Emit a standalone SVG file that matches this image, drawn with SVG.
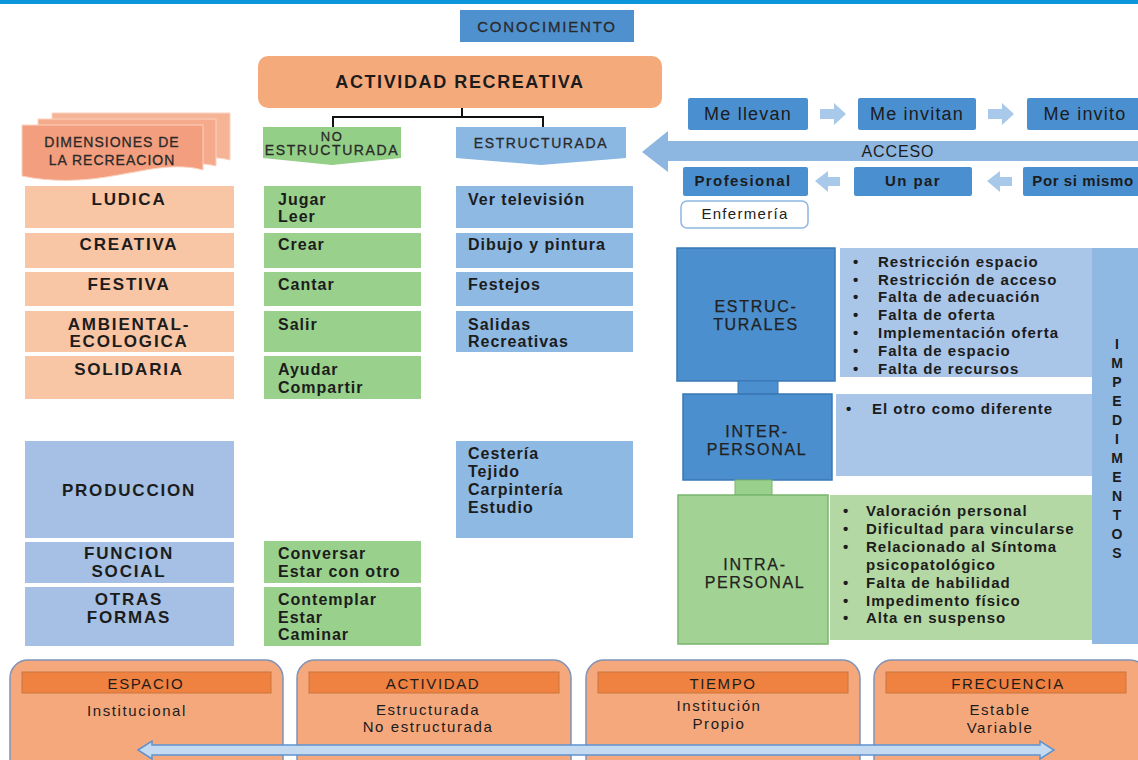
<svg xmlns="http://www.w3.org/2000/svg" width="1138" height="760" viewBox="0 0 1138 760">
  <defs>
    <style>
      text { font-family: "Liberation Sans", Arial, sans-serif; fill: #1c1c1c; }
      .b { font-weight: bold; }
      .dim { font-size: 17px; font-weight: bold; letter-spacing: 1.8px; text-anchor: middle; }
      .act { font-size: 16px; font-weight: bold; letter-spacing: 1px; }
      .bul { font-size: 15px; font-weight: bold; letter-spacing: 1px; }
      .hdr { font-size: 14px; letter-spacing: 1.6px; text-anchor: middle; fill: #2a2a2a; stroke: #2a2a2a; stroke-width: 0.3px; }
      .acc { font-size: 18px; letter-spacing: 1.2px; text-anchor: middle; }
      .acb { font-size: 15px; font-weight: bold; letter-spacing: 1.4px; text-anchor: middle; }
      .imp { font-size: 16px; letter-spacing: 1.7px; text-anchor: middle; fill: #222; stroke: #222; stroke-width: 0.25px; }
      .card { font-size: 15px; letter-spacing: 1.6px; text-anchor: middle; }
      .peach { fill: #f8c5a5; }
      .green { fill: #98d08c; }
      .blue { fill: #8eb9e3; }
      .lblue { fill: #a5c0e4; }
      .dblue { fill: #4a8fd0; }
      .barr { fill: #a9c9ea; }
      .doc { stroke: #fbd3c0; stroke-width: 1; }
      .cardbox { fill: #f4a87c; stroke: #7f93b8; stroke-width: 1.5; }
      .cardhdr { fill: #ef8141; stroke: #c9763f; stroke-width: 1; }
    </style>
  </defs>

  <!-- top band -->
  <rect x="0" y="0" width="1138" height="4" fill="#0a96d8"/>

  <g id="conocimiento">
    <rect x="460" y="10" width="174" height="32" fill="#4f91cf"/>
    <text x="547" y="32" class="hdr" style="font-size:15px;letter-spacing:1.8px">CONOCIMIENTO</text>
  </g>

  <g id="actividad-recreativa">
    <rect x="258" y="56" width="404" height="52" rx="10" fill="#f5aa7c"/>
    <text x="460" y="88" class="b" style="font-size:18px;letter-spacing:1.6px;text-anchor:middle">ACTIVIDAD RECREATIVA</text>
  </g>

  <!-- connectors -->
  <g id="connectors" fill="none" stroke="#111" stroke-width="2">
    <path d="M462,108 V117 M333,127 V117 H543 V127"/>
  </g>

  <g id="no-estructurada">
    <path d="M263,127 H401 V158 L332,165 L263,158 Z" fill="#93cf86"/>
    <text x="332" y="141" class="hdr" style="font-size:13px">NO</text>
    <text x="332" y="155" class="hdr">ESTRUCTURADA</text>
  </g>

  <g id="estructurada">
    <path d="M456,127 H626 V158 L541,165 L456,158 Z" fill="#8ab8e2"/>
    <text x="541" y="148" class="hdr">ESTRUCTURADA</text>
  </g>

  <!-- stacked document shape -->
  <g id="dimensiones">
    <path class="doc" d="M52,113 H230 V160 C205,154 180,160 150,166 C115,172 80,172 52,166 Z" fill="#f6b496"/>
    <path class="doc" d="M38,119 H216 V166 C190,160 165,166 135,172 C100,178 66,178 38,172 Z" fill="#f5aa8b"/>
    <path class="doc" d="M22,125 H203 V170 C178,163 150,169 118,175 C82,182 50,182 22,176 Z" fill="#f39e7e"/>
    <text x="112" y="147" class="hdr" style="letter-spacing:1px">DIMENSIONES DE</text>
    <text x="112" y="165" class="hdr" style="letter-spacing:1px">LA RECREACION</text>
  </g>

  <!-- dimensions column -->
  <g id="dim-ludica"><rect x="25" y="186" width="209" height="42" class="peach"/><text x="129" y="205" class="dim">LUDICA</text></g>
  <g id="dim-creativa"><rect x="25" y="233" width="209" height="35" class="peach"/><text x="129" y="250" class="dim">CREATIVA</text></g>
  <g id="dim-festiva"><rect x="25" y="272" width="209" height="34" class="peach"/><text x="129" y="290" class="dim">FESTIVA</text></g>
  <g id="dim-ambiental"><rect x="25" y="311" width="209" height="41" class="peach"/><text x="129" y="330" class="dim">AMBIENTAL-</text><text x="129" y="347" class="dim">ECOLOGICA</text></g>
  <g id="dim-solidaria"><rect x="25" y="356" width="209" height="43" class="peach"/><text x="129" y="375" class="dim">SOLIDARIA</text></g>
  <g id="dim-produccion"><rect x="25" y="441" width="209" height="97" class="lblue"/><text x="129" y="496" class="dim">PRODUCCION</text></g>
  <g id="dim-funcion"><rect x="25" y="542" width="209" height="41" class="lblue"/><text x="129" y="559" class="dim">FUNCION</text><text x="129" y="577" class="dim">SOCIAL</text></g>
  <g id="dim-otras"><rect x="25" y="587" width="209" height="59" class="lblue"/><text x="129" y="605" class="dim">OTRAS</text><text x="129" y="623" class="dim">FORMAS</text></g>

  <!-- non-structured activities -->
  <g id="ne-jugar"><rect x="264" y="186" width="157" height="42" class="green"/><text x="278" y="205" class="act">Jugar</text><text x="278" y="222" class="act">Leer</text></g>
  <g id="ne-crear"><rect x="264" y="233" width="157" height="35" class="green"/><text x="278" y="250" class="act">Crear</text></g>
  <g id="ne-cantar"><rect x="264" y="272" width="157" height="34" class="green"/><text x="278" y="290" class="act">Cantar</text></g>
  <g id="ne-salir"><rect x="264" y="311" width="157" height="41" class="green"/><text x="278" y="330" class="act">Salir</text></g>
  <g id="ne-ayudar"><rect x="264" y="356" width="157" height="43" class="green"/><text x="278" y="375" class="act">Ayudar</text><text x="278" y="393" class="act">Compartir</text></g>
  <g id="ne-conversar"><rect x="264" y="541" width="157" height="42" class="green"/><text x="278" y="559" class="act">Conversar</text><text x="278" y="577" class="act">Estar con otro</text></g>
  <g id="ne-contemplar"><rect x="264" y="587" width="157" height="59" class="green"/><text x="278" y="605" class="act">Contemplar</text><text x="278" y="623" class="act">Estar</text><text x="278" y="640" class="act">Caminar</text></g>

  <!-- structured activities -->
  <g id="e-tv"><rect x="456" y="186" width="177" height="42" class="blue"/><text x="468" y="205" class="act">Ver televisión</text></g>
  <g id="e-dibujo"><rect x="456" y="233" width="177" height="35" class="blue"/><text x="468" y="250" class="act">Dibujo y pintura</text></g>
  <g id="e-festejos"><rect x="456" y="272" width="177" height="34" class="blue"/><text x="468" y="290" class="act">Festejos</text></g>
  <g id="e-salidas"><rect x="456" y="311" width="177" height="41" class="blue"/><text x="468" y="330" class="act">Salidas</text><text x="468" y="347" class="act">Recreativas</text></g>
  <g id="e-cesteria"><rect x="456" y="441" width="177" height="97" class="blue"/><text x="468" y="459" class="act">Cestería</text><text x="468" y="477" class="act">Tejido</text><text x="468" y="495" class="act">Carpintería</text><text x="468" y="513" class="act">Estudio</text></g>

  <!-- access -->
  <g id="acceso">
    <path d="M642,152 L668,131 V141 H1138 V161 H668 V172 Z" fill="#8db6e0"/>
    <text x="898" y="157" style="font-size:16px;letter-spacing:0.9px;text-anchor:middle">ACCESO</text>
  </g>
  <g id="me-llevan"><rect x="688" y="98" width="120" height="32" rx="2" class="dblue"/><text x="748" y="120" class="acc">Me llevan</text></g>
  <g id="me-invitan"><rect x="858" y="98" width="118" height="32" rx="2" class="dblue"/><text x="917" y="120" class="acc">Me invitan</text></g>
  <g id="me-invito"><rect x="1027" y="98" width="115" height="32" rx="2" class="dblue"/><text x="1085" y="120" class="acc">Me invito</text></g>
  <g id="profesional"><rect x="683" y="167" width="125" height="29" rx="2" class="dblue"/><text x="743" y="186" class="acb">Profesional</text></g>
  <g id="un-par"><rect x="854" y="167" width="118" height="29" rx="2" class="dblue"/><text x="913" y="186" class="acb">Un par</text></g>
  <g id="por-si-mismo"><rect x="1023" y="167" width="120" height="29" rx="2" class="dblue"/><text x="1083" y="186" class="acb" style="letter-spacing:0.6px">Por si mismo</text></g>
  <g id="enfermeria"><rect x="681" y="201" width="127" height="27" rx="6" fill="#fff" stroke="#8db6e0" stroke-width="1.5"/><text x="745" y="219" style="font-size:15px;letter-spacing:1.3px;text-anchor:middle;fill:#222">Enfermería</text></g>

  <!-- small block arrows in the access sequence -->
  <g id="access-arrows" class="barr">
    <path d="M820,109 H834 V103 L846,114 L834,125 V119 H820 Z"/>
    <path d="M988,109 H1002 V103 L1014,114 L1002,125 V119 H988 Z"/>
    <path d="M840,177 H828 V171 L815,181 L828,192 V186 H840 Z"/>
    <path d="M1012,177 H1000 V171 L987,181 L1000,192 V186 H1012 Z"/>
  </g>

  <!-- impediments -->
  <g id="imp-column">
    <rect x="1092" y="248" width="46" height="396" fill="#8fb8e2"/>
    <g class="b" style="font-size:14px;text-anchor:middle">
      <text x="1117" y="349">I</text><text x="1117" y="368">M</text><text x="1117" y="387">P</text><text x="1117" y="406">E</text>
      <text x="1117" y="425">D</text><text x="1117" y="444">I</text><text x="1117" y="463">M</text><text x="1117" y="482">E</text>
      <text x="1117" y="501">N</text><text x="1117" y="520">T</text><text x="1117" y="539">O</text><text x="1117" y="558">S</text>
    </g>
  </g>

  <g id="estructurales">
    <rect x="677" y="248" width="158" height="133" fill="#4b8fcf" stroke="#3a77b5" stroke-width="1.5"/>
    <text x="756" y="312" class="imp">ESTRUC-</text>
    <text x="756" y="330" class="imp">TURALES</text>
  </g>
  <g id="estructurales-list">
    <rect x="840" y="248" width="252" height="129" fill="#a9c5e8"/>
    <g class="bul">
      <text x="853" y="267">•</text><text x="878" y="267">Restricción espacio</text>
      <text x="853" y="285">•</text><text x="878" y="285">Restricción de acceso</text>
      <text x="853" y="302">•</text><text x="878" y="302">Falta de adecuación</text>
      <text x="853" y="320">•</text><text x="878" y="320">Falta de oferta</text>
      <text x="853" y="338">•</text><text x="878" y="338">Implementación oferta</text>
      <text x="853" y="356">•</text><text x="878" y="356">Falta de espacio</text>
      <text x="853" y="374">•</text><text x="878" y="374">Falta de recursos</text>
    </g>
  </g>
  <rect id="link-1" x="738" y="381" width="40" height="13" fill="#4b8fcf" stroke="#3a77b5" stroke-width="1"/>

  <g id="interpersonal">
    <rect x="683" y="394" width="149" height="86" fill="#4b8fcf" stroke="#3a77b5" stroke-width="1.5"/>
    <text x="757" y="437" class="imp">INTER-</text>
    <text x="757" y="455" class="imp">PERSONAL</text>
  </g>
  <g id="interpersonal-list">
    <rect x="836" y="394" width="256" height="82" fill="#a9c5e8"/>
    <text x="846" y="414" class="bul">•</text><text x="872" y="414" class="bul">El otro como diferente</text>
  </g>
  <rect id="link-2" x="735" y="480" width="37" height="15" fill="#98d08c" stroke="#7ab56c" stroke-width="1"/>

  <g id="intrapersonal">
    <rect x="678" y="495" width="150" height="149" fill="#a2d394" stroke="#7ab56c" stroke-width="1.5"/>
    <text x="755" y="570" class="imp">INTRA-</text>
    <text x="755" y="588" class="imp">PERSONAL</text>
  </g>
  <g id="intrapersonal-list">
    <rect x="830" y="495" width="262" height="145" fill="#b4d8a4"/>
    <g class="bul">
      <text x="843" y="516">•</text><text x="866" y="516">Valoración personal</text>
      <text x="843" y="534">•</text><text x="866" y="534">Dificultad para vincularse</text>
      <text x="843" y="552">•</text><text x="866" y="552">Relacionado al Síntoma</text>
      <text x="866" y="570">psicopatológico</text>
      <text x="843" y="588">•</text><text x="866" y="588">Falta de habilidad</text>
      <text x="843" y="606">•</text><text x="866" y="606">Impedimento físico</text>
      <text x="843" y="623">•</text><text x="866" y="623">Alta en suspenso</text>
    </g>
  </g>

  <!-- bottom cards -->
  <g id="card-espacio">
    <rect x="10" y="660" width="273" height="120" rx="18" class="cardbox"/>
    <rect x="22" y="672" width="249" height="21" class="cardhdr"/>
    <text x="146" y="689" class="card">ESPACIO</text>
    <text x="137" y="716" class="card">Institucional</text>
  </g>
  <g id="card-actividad">
    <rect x="297" y="660" width="274" height="120" rx="18" class="cardbox"/>
    <rect x="309" y="672" width="250" height="21" class="cardhdr"/>
    <text x="433" y="689" class="card">ACTIVIDAD</text>
    <text x="428" y="715" class="card">Estructurada</text>
    <text x="428" y="732" class="card">No estructurada</text>
  </g>
  <g id="card-tiempo">
    <rect x="586" y="660" width="274" height="120" rx="18" class="cardbox"/>
    <rect x="598" y="672" width="250" height="21" class="cardhdr"/>
    <text x="723" y="689" class="card">TIEMPO</text>
    <text x="719" y="711" class="card">Institución</text>
    <text x="719" y="729" class="card">Propio</text>
  </g>
  <g id="card-frecuencia">
    <rect x="874" y="660" width="274" height="120" rx="18" class="cardbox"/>
    <rect x="886" y="672" width="240" height="21" class="cardhdr"/>
    <text x="1008" y="689" class="card">FRECUENCIA</text>
    <text x="1000" y="715" class="card">Estable</text>
    <text x="1000" y="733" class="card">Variable</text>
  </g>

  <g id="span-arrow">
    <path d="M138,750 L152,741 V745 H1040 V741 L1054,750 L1040,759 V755 H152 V759 Z" fill="#c4daf0" stroke="#5f92cf" stroke-width="1.5"/>
  </g>
</svg>
